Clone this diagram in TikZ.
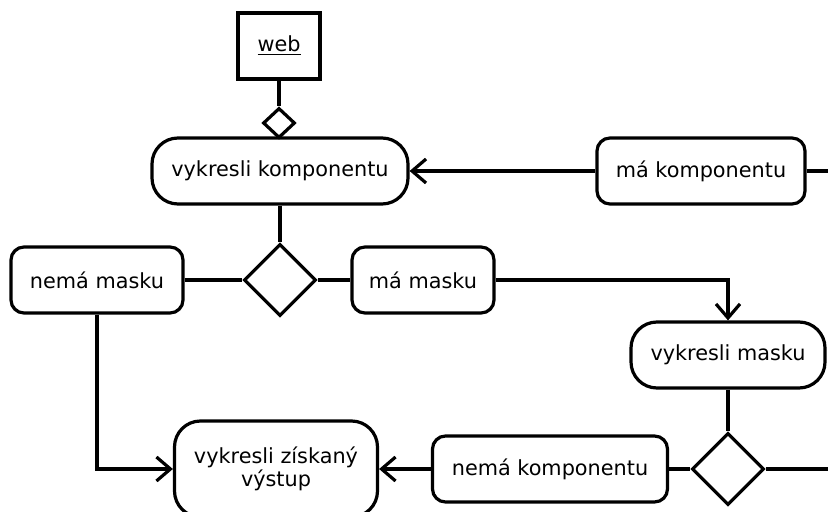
\documentclass[tikz,border=0pt]{standalone}
\usepackage{fontspec}
\setmainfont{DejaVu Sans}
\usetikzlibrary{shapes.geometric,arrows.meta}

\begin{document}
\begin{tikzpicture}[x=0.5pt,y=-0.5pt,line width=1.6pt,
  >={Straight Barb[length=7pt,width=12pt]},
  every node/.style={font=\fontsize{10.4}{10}\selectfont,inner sep=0pt},
  objekt/.style={draw,rectangle,minimum width=41pt,minimum height=33pt},
  akce/.style={draw,rectangle,rounded corners=13pt,minimum height=33pt},
  podm/.style={draw,rectangle,rounded corners=6.5pt,minimum height=33pt},
  rozh/.style={draw,diamond,aspect=1,minimum width=36pt,minimum height=36pt},
  spoj/.style={draw,diamond,minimum width=16pt,minimum height=15pt}]
  \clip (0,0) rectangle (828,512);
  \node[objekt] (web) at (279,46) {\underline{web}};
  \node[spoj] (agr) at (279,123) {};
  \node[akce,minimum width=128pt] (vk) at (280,171) {vykresli komponentu};
  \node[podm,minimum width=104pt] (mk) at (701,171) {má komponentu};
  \node[rozh] (r1) at (280,280) {};
  \node[podm,minimum width=86pt] (nm) at (97,280) {nemá masku};
  \node[podm,minimum width=71pt] (mm) at (423,280) {má masku};
  \node[akce,minimum width=97pt] (vm) at (728,355) {vykresli masku};
  \node[rozh] (r2) at (728,469) {};
  \node[podm,minimum width=117.5pt] (nk) at (550,469) {nemá komponentu};
  \node[akce,minimum width=101.5pt,minimum height=48pt,align=center] (vzv) at (276,469)
    {vykresli získaný\\výstup};
  \coordinate (ven1) at (840,171);
  \coordinate (ven2) at (840,469);
  % spoje
  \draw (web) -- (agr);
  \draw (mk) -- (ven1);
  \draw[->] (mk) -- (vk);
  \draw (vk) -- (r1);
  \draw (nm) -- (r1);
  \draw (r1) -- (mm);
  \draw[->] (mm) -| (vm);
  \draw (vm) -- (r2);
  \draw (nk) -- (r2);
  \draw (r2) -- (ven2);
  \draw[->] (nk) -- (vzv);
  \draw[->] (nm) |- (vzv);
\end{tikzpicture}
\end{document}
